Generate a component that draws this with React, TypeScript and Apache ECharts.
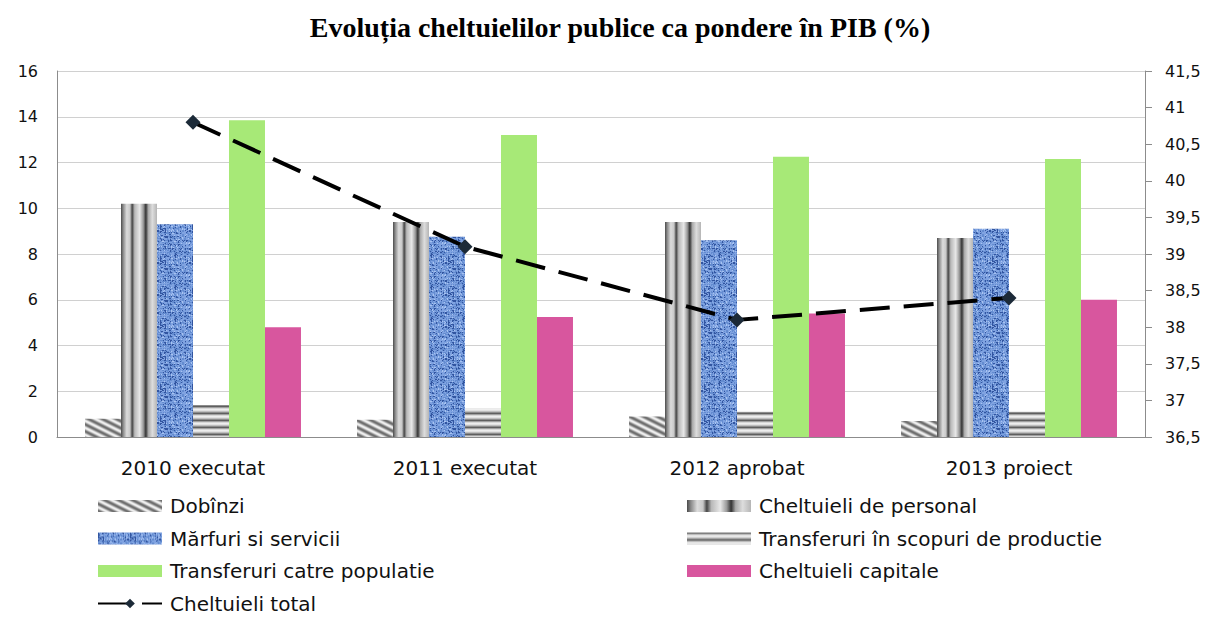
import React, { useEffect, useRef } from "react";
import * as echarts from "echarts";

const categories = ["2010 executat", "2011 executat", "2012 aprobat", "2013 proiect"];
const dobinzi = [0.8, 0.75, 0.9, 0.7];
const personal = [10.2, 9.4, 9.4, 8.7];
const marfuri = [9.3, 8.75, 8.6, 9.1];
const transfProd = [1.4, 1.25, 1.1, 1.1];
const transfPop = [13.85, 13.2, 12.25, 12.15];
const capitale = [4.8, 5.25, 5.4, 6.0];
const total = [40.8, 39.1, 38.1, 38.4];

const leftLegend = ["Dobînzi", "Mărfuri si servicii", "Transferuri catre populatie", "Cheltuieli total"];
const rightLegend = ["Cheltuieli de personal", "Transferuri în scopuri de productie", "Cheltuieli capitale"];
const lineName = "Cheltuieli total";

function makeCanvas(w: number, h: number, fn: (x: number, y: number) => number[]) {
  const c = document.createElement("canvas");
  c.width = w;
  c.height = h;
  const ctx = c.getContext("2d")!;
  const img = ctx.createImageData(w, h);
  for (let y = 0; y < h; y++) {
    for (let x = 0; x < w; x++) {
      const [r, g, b] = fn(x, y);
      const i = (y * w + x) * 4;
      img.data[i] = r;
      img.data[i + 1] = g;
      img.data[i + 2] = b;
      img.data[i + 3] = 255;
    }
  }
  ctx.putImageData(img, 0, 0);
  return c;
}

function hash(x: number, y: number) {
  const s = Math.sin(x * 12.9898 + y * 78.233) * 43758.5453;
  return s - Math.floor(s);
}

function buildPatterns() {
  const diag = makeCanvas(14, 7, (x, y) => {
    const t = (((x - 2 * y) % 14) + 14) % 14 / 14;
    const v = Math.round(110 + 130 * (0.5 + 0.5 * Math.cos(2 * Math.PI * t)));
    return [v, v, v];
  });
  const rows = [95, 160, 215, 238, 225, 190, 140];
  const horiz = makeCanvas(4, 7, (x, y) => {
    const v = rows[y];
    return [v, v, v];
  });
  const blue = makeCanvas(32, 32, (x, y) => {
    const n = hash(x, y) * 0.6 + hash(Math.floor(x / 2), Math.floor(y / 2)) * 0.4;
    const weave = y % 4 === 0 || x % 5 === 0 ? -0.15 : 0;
    const v = n + weave;
    if (v < 0.2) return [50, 85, 160];
    if (v < 0.45) return [100, 140, 208];
    if (v < 0.78) return [128, 163, 225];
    return [168, 195, 240];
  });
  return { diag, horiz, blue };
}

export default function App() {
  const ref = useRef<HTMLDivElement>(null);
  useEffect(() => {
    if (!ref.current) return;
    const chart = echarts.init(ref.current, undefined, { renderer: "svg" });
    const p = buildPatterns();
    const personalGrad = new echarts.graphic.LinearGradient(0, 0, 1, 0, [
      { offset: 0, color: "#4a4a4a" },
      { offset: 0.06, color: "#8a8a8a" },
      { offset: 0.16, color: "#dcdcdc" },
      { offset: 0.25, color: "#c8c8c8" },
      { offset: 0.31, color: "#444444" },
      { offset: 0.38, color: "#b8b8b8" },
      { offset: 0.52, color: "#e8e8e8" },
      { offset: 0.62, color: "#9a9a9a" },
      { offset: 0.69, color: "#333333" },
      { offset: 0.76, color: "#aaaaaa" },
      { offset: 0.87, color: "#dddddd" },
      { offset: 1, color: "#b5b5b5" },
    ]);
    const barBase = { type: "bar", barGap: "0%", barCategoryGap: "20.6%", yAxisIndex: 0 };
    const legendText = { fontFamily: "DejaVu Sans", fontSize: 20, color: "#111", lineHeight: 20, padding: [0, 0, 0, 3] };
    const toItems = (names: string[]) =>
      names.map((n) => (n === lineName ? { name: n } : { name: n, icon: "rect" }));
    chart.setOption({
      animation: false,
      backgroundColor: "#ffffff",
      title: {
        text: "Evoluția cheltuielilor publice ca pondere în PIB (%)",
        left: 615,
        textAlign: "center",
        top: 8,
        textStyle: { fontFamily: "Liberation Serif", fontWeight: "bold", fontSize: 28, color: "#000" },
      },
      legend: [
        {
          data: toItems(leftLegend),
          orient: "vertical",
          left: 97,
          top: 496,
          padding: 0,
          itemWidth: 64,
          itemHeight: 12,
          itemGap: 12.5,
          textStyle: legendText,
        },
        {
          data: toItems(rightLegend),
          orient: "vertical",
          left: 687,
          top: 496,
          padding: 0,
          itemWidth: 64,
          itemHeight: 12,
          itemGap: 12.5,
          textStyle: legendText,
        },
      ],
      grid: { left: 57, right: 66, top: 71, bottom: 180, containLabel: false },
      xAxis: {
        type: "category",
        data: categories,
        axisLine: { lineStyle: { color: "#8c8c8c", width: 1 } },
        axisTick: { show: false },
        axisLabel: { fontFamily: "DejaVu Sans", fontSize: 20, color: "#111", margin: 21 },
      },
      yAxis: [
        {
          type: "value",
          min: 0,
          max: 16,
          interval: 2,
          axisLine: { show: true, lineStyle: { color: "#8c8c8c" } },
          axisTick: { show: false },
          splitLine: { lineStyle: { color: "#d0d0d0", width: 1 } },
          axisLabel: { fontFamily: "DejaVu Sans", fontSize: 16, color: "#111", margin: 19 },
        },
        {
          type: "value",
          min: 36.5,
          max: 41.5,
          interval: 0.5,
          position: "right",
          axisLine: { show: true, lineStyle: { color: "#8c8c8c" } },
          axisTick: { show: true, inside: false, length: 7, lineStyle: { color: "#8c8c8c" } },
          splitLine: { show: false },
          axisLabel: {
            fontFamily: "DejaVu Sans",
            fontSize: 16,
            color: "#111",
            margin: 20,
            formatter: (v: number) => String(v).replace(".", ","),
          },
        },
      ],
      series: [
        { ...barBase, name: "Dobînzi", data: dobinzi, itemStyle: { color: { image: p.diag, repeat: "repeat" } } },
        { ...barBase, name: "Cheltuieli de personal", data: personal, itemStyle: { color: personalGrad } },
        { ...barBase, name: "Mărfuri si servicii", data: marfuri, itemStyle: { color: { image: p.blue, repeat: "repeat" } } },
        {
          ...barBase,
          name: "Transferuri în scopuri de productie",
          data: transfProd,
          itemStyle: { color: { image: p.horiz, repeat: "repeat" } },
        },
        { ...barBase, name: "Transferuri catre populatie", data: transfPop, itemStyle: { color: "#a7e977" } },
        { ...barBase, name: "Cheltuieli capitale", data: capitale, itemStyle: { color: "#d8569e" } },
        {
          type: "line",
          name: lineName,
          yAxisIndex: 1,
          data: total,
          z: 5,
          symbol: "diamond",
          symbolSize: 15,
          itemStyle: { color: "#1c2a38" },
          lineStyle: { color: "#000", width: 4, type: [30, 14] },
        },
      ],
    });
    return () => chart.dispose();
  }, []);
  return <div ref={ref} style={{ position: "fixed", left: 0, top: 0, width: 1211, height: 617 }} />;
}
